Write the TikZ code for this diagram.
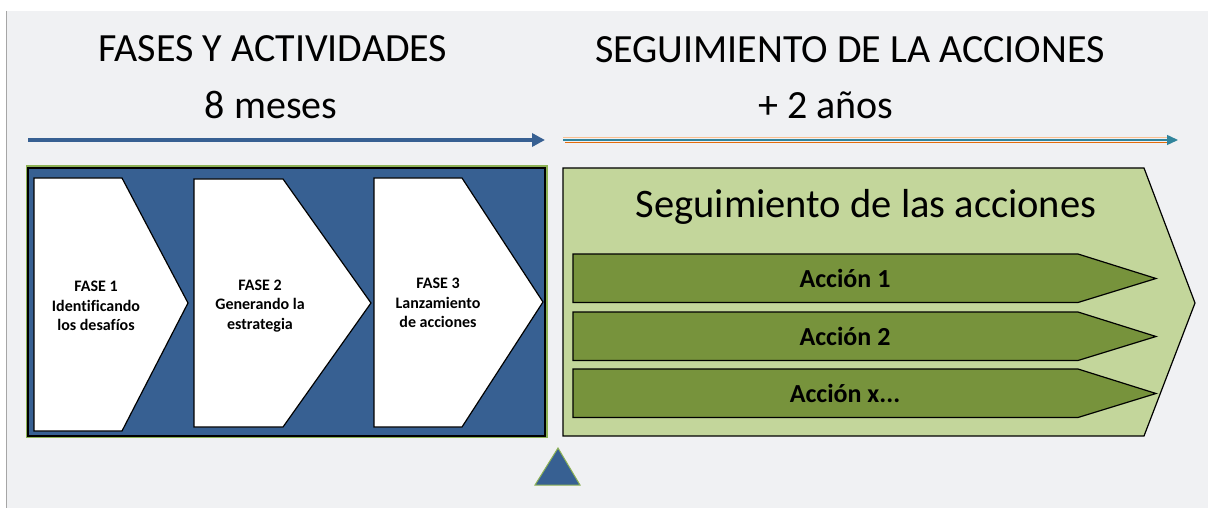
\documentclass[tikz,border=0pt]{standalone}
\usepackage{fontspec}
\setmainfont{Carlito}[Ligatures=NoCommon]
\usetikzlibrary{arrows.meta}
\definecolor{fondo}{HTML}{F0F1F3}
\definecolor{azul}{HTML}{376092}
\definecolor{verdeclaro}{HTML}{C3D69B}
\definecolor{verdeosc}{HTML}{77933C}
\definecolor{verdeborde}{HTML}{8DB255}
\definecolor{naranjaclaro}{HTML}{FAC090}
\definecolor{naranja}{HTML}{E46C0A}
\definecolor{turquesa}{HTML}{31859C}
\tikzset{
  titulo/.style={font=\fontsize{40}{46}\selectfont, anchor=base, inner sep=0pt},
  fase/.style={draw=black, line width=1.2pt, fill=white},
  textofase/.style={font=\fontsize{16}{19.8}\selectfont\bfseries, align=center, inner sep=0pt},
  accion/.style={draw=black, line width=1.2pt, fill=verdeosc},
  textoaccion/.style={font=\fontsize{26}{30}\selectfont\bfseries, anchor=base, inner sep=0pt},
}
\begin{document}
\begin{tikzpicture}[x=1pt, y=-1pt]
    \useasboundingbox (0,0) rectangle (1208,508);
    \fill[fondo] (6,11) rectangle (1208,508);
    \draw[gray!70, line width=1.2pt] (6.5,11) -- (6.5,508);
    % flechas de tiempo
    \coordinate (ini1) at (28,140);
    \coordinate (fin1) at (545,140);
    \coordinate (ini2) at (563,140);
    \coordinate (fin2) at (1178,140);
    \draw[azul, line width=4.5pt, -{Triangle[length=13pt, width=13pt]}] (ini1) -- (fin1);
    \draw[naranjaclaro, line width=1.2pt] ([yshift=2.6pt]ini2) -- ([xshift=-6pt, yshift=2.6pt]fin2);
    \draw[naranja, line width=1.2pt] ([xshift=2pt, yshift=-2.4pt]ini2) -- ([xshift=-6pt, yshift=-2.4pt]fin2);
    \draw[turquesa, line width=1.4pt, -{Triangle[length=11pt, width=10pt]}] (ini2) -- (fin2);
    % fases
    \draw[verdeborde, line width=2pt] (27,166.5) rectangle (547,437);
    \draw[fill=azul, draw=black, line width=1.2pt] (28,168) rectangle (545,436);
    \draw[fase] (34,178) -- (122,178) -- (188,303) -- (122,431) -- (34,431) -- cycle;
    \draw[fase] (194,179) -- (283,179) -- (371,303) -- (283,427) -- (194,427) -- cycle;
    \draw[fase] (374,178) -- (462,178) -- (543,302) -- (462,427) -- (374,427) -- cycle;
    \node[textofase] (fase1) at (96,306) {FASE 1\\Identificando\\los desafíos};
    \node[textofase] (fase2) at (260,306) {FASE 2\\Generando la\\estrategia};
    \node[textofase] (fase3) at (438,303) {FASE 3\\Lanzamiento\\de acciones};
    % seguimiento
    \draw[fill=verdeclaro, draw=black, line width=1.2pt] (563,168) -- (1144,168) -- (1195,303) -- (1144,436) -- (563,436) -- cycle;
    \foreach \y in {254, 312, 369} {
        \draw[accion] (573,\y) -- (1078,\y) -- (1156,\y+24.5) -- (1078,\y+48.5) -- (573,\y+48.5) -- cycle;
    }
    \node[titulo, font=\fontsize{40.5}{46}\selectfont] (seguim) at (866,218) {Seguimiento de las acciones};
    \node[textoaccion] (accion1) at (845,287) {Acción 1};
    \node[textoaccion] (accion2) at (845,345) {Acción 2};
    \node[textoaccion] (accionx) at (845,402) {Acción x...};
    % marcador
    \draw[fill=azul, draw=verdeborde, line width=1pt] (558,448) -- (580,485) -- (535,485) -- cycle;
    % titulos
    \node[titulo] (fases) at (273,62) {FASES Y ACTIVIDADES};
    \node[titulo] (meses) at (271,119) {8 meses};
    \node[titulo] (segtit) at (850,63) {SEGUIMIENTO DE LA ACCIONES};
    \node[titulo] (anios) at (826,119) {+ 2 años};
\end{tikzpicture}
\end{document}
